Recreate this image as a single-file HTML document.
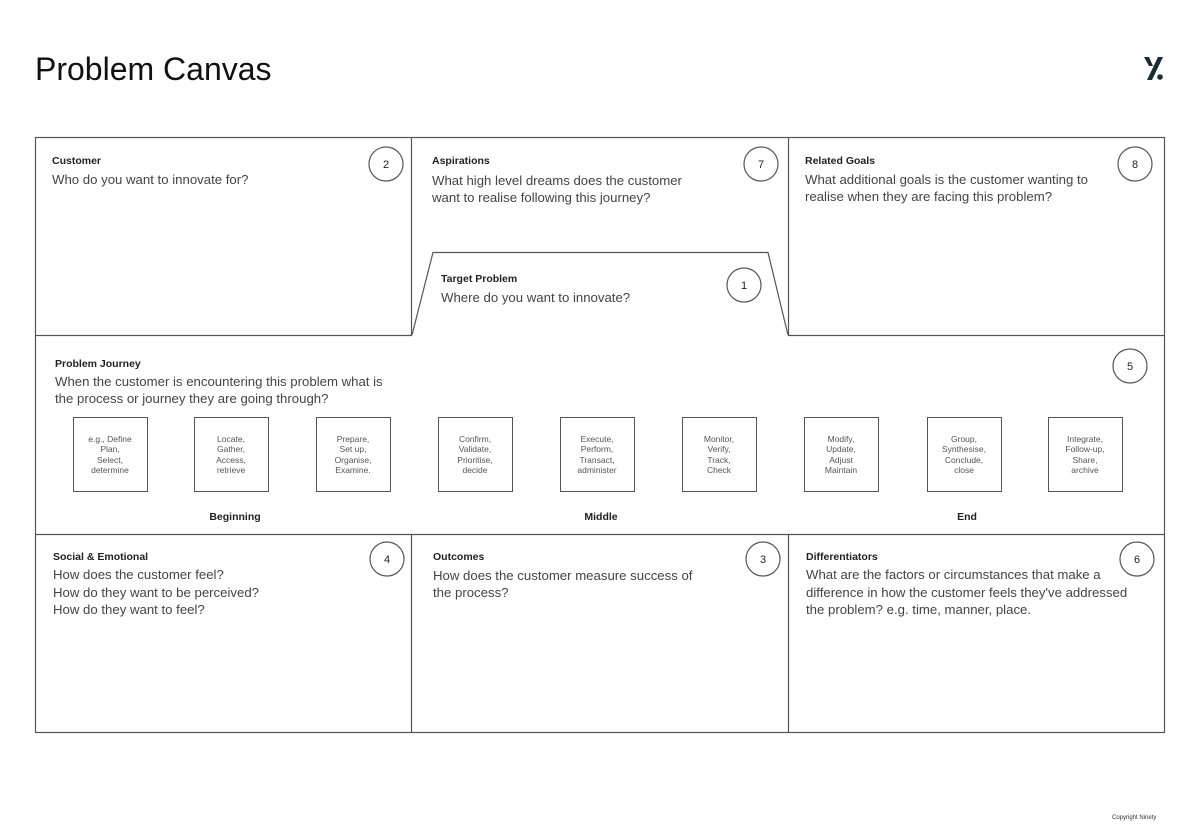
<!DOCTYPE html>
<html><head><meta charset="utf-8"><style>
html,body{margin:0;padding:0;background:#fff}
svg{display:block}
text{font-family:"Liberation Sans",sans-serif;fill:#333}
.h{font-size:10.5px;font-weight:bold;fill:#222}
.q{font-size:13.2px;fill:#444}
.b{font-size:8.5px;fill:#555;text-anchor:middle}
.n{font-size:11px;text-anchor:middle;fill:#222}
</style></head><body>
<svg width="1200" height="831" viewBox="0 0 1200 831" xmlns="http://www.w3.org/2000/svg">
<text x="35" y="80" style="font-size:32px;fill:#111">Problem Canvas</text>
<g fill="#1b2a33">
<polygon points="1144,57 1149,57 1153,66 1149,66"/>
<polygon points="1158,57 1163,57 1152,80 1147,80"/>
<circle cx="1160" cy="77" r="2.8"/>
</g>
<g stroke="#555" stroke-width="1.2" fill="none">
<rect x="35.5" y="137.5" width="1129" height="595"/>
<line x1="411.5" y1="137" x2="411.5" y2="335"/>
<line x1="788.5" y1="137" x2="788.5" y2="335"/>
<line x1="35" y1="335.5" x2="412" y2="335.5"/>
<line x1="788" y1="335.5" x2="1164" y2="335.5"/>
<polyline points="412,335 433,252.5 768,252.5 788,335"/>
<line x1="35" y1="534.5" x2="1164" y2="534.5"/>
<line x1="411.5" y1="534" x2="411.5" y2="733"/>
<line x1="788.5" y1="534" x2="788.5" y2="733"/>
<circle cx="386" cy="164" r="17"/><circle cx="761" cy="164" r="17"/><circle cx="1135" cy="164" r="17"/>
<circle cx="744" cy="285" r="17"/><circle cx="1130" cy="366" r="17"/>
<circle cx="387" cy="559" r="17"/><circle cx="763" cy="559" r="17"/><circle cx="1137" cy="559" r="17"/>
<g stroke-width="1">
<rect x="73.5" y="417.5" width="74" height="74"/><rect x="194.5" y="417.5" width="74" height="74"/>
<rect x="316.5" y="417.5" width="74" height="74"/><rect x="438.5" y="417.5" width="74" height="74"/>
<rect x="560.5" y="417.5" width="74" height="74"/><rect x="682.5" y="417.5" width="74" height="74"/>
<rect x="804.5" y="417.5" width="74" height="74"/><rect x="927.5" y="417.5" width="74" height="74"/>
<rect x="1048.5" y="417.5" width="74" height="74"/>
</g></g>
<text class="n" x="386" y="168">2</text><text class="n" x="761" y="168">7</text><text class="n" x="1135" y="168">8</text>
<text class="n" x="744" y="289">1</text><text class="n" x="1130" y="370">5</text>
<text class="n" x="387" y="563">4</text><text class="n" x="763" y="563">3</text><text class="n" x="1137" y="563">6</text>

<text class="h" x="52" y="164">Customer</text>
<text class="q" x="52" y="184">Who do you want to innovate for?</text>
<text class="h" x="432" y="164">Aspirations</text>
<text class="q" x="432" y="185">What high level dreams does the customer</text>
<text class="q" x="432" y="202">want to realise following this journey?</text>
<text class="h" x="805" y="164">Related Goals</text>
<text class="q" x="805" y="184">What additional goals is the customer wanting to</text>
<text class="q" x="805" y="201">realise when they are facing this problem?</text>
<text class="h" x="441" y="282">Target Problem</text>
<text class="q" x="441" y="302">Where do you want to innovate?</text>
<text class="h" x="55" y="367">Problem Journey</text>
<text class="q" x="55" y="386">When the customer is encountering this problem what is</text>
<text class="q" x="55" y="403">the process  or journey they are going through?</text>

<text class="b" x="110" y="442">e.g., Define</text><text class="b" x="110" y="452">Plan,</text><text class="b" x="110" y="463">Select,</text><text class="b" x="110" y="473">determine</text>
<text class="b" x="231" y="442">Locate,</text><text class="b" x="231" y="452">Gather,</text><text class="b" x="231" y="463">Access,</text><text class="b" x="231" y="473">retrieve</text>
<text class="b" x="353" y="442">Prepare,</text><text class="b" x="353" y="452">Set up,</text><text class="b" x="353" y="463">Organise,</text><text class="b" x="353" y="473">Examine.</text>
<text class="b" x="475" y="442">Confirm,</text><text class="b" x="475" y="452">Validate,</text><text class="b" x="475" y="463">Prioritise,</text><text class="b" x="475" y="473">decide</text>
<text class="b" x="597" y="442">Execute,</text><text class="b" x="597" y="452">Perform,</text><text class="b" x="597" y="463">Transact,</text><text class="b" x="597" y="473">administer</text>
<text class="b" x="719" y="442">Monitor,</text><text class="b" x="719" y="452">Verify,</text><text class="b" x="719" y="463">Track,</text><text class="b" x="719" y="473">Check</text>
<text class="b" x="841" y="442">Modify,</text><text class="b" x="841" y="452">Update,</text><text class="b" x="841" y="463">Adjust</text><text class="b" x="841" y="473">Maintain</text>
<text class="b" x="964" y="442">Group,</text><text class="b" x="964" y="452">Synthesise,</text><text class="b" x="964" y="463">Conclude,</text><text class="b" x="964" y="473">close</text>
<text class="b" x="1085" y="442">Integrate,</text><text class="b" x="1085" y="452">Follow-up,</text><text class="b" x="1085" y="463">Share,</text><text class="b" x="1085" y="473">archive</text>

<text class="h" x="235" y="520" text-anchor="middle">Beginning</text>
<text class="h" x="601" y="520" text-anchor="middle">Middle</text>
<text class="h" x="967" y="520" text-anchor="middle">End</text>

<text class="h" x="53" y="560">Social &amp; Emotional</text>
<text class="q" x="53" y="579">How does the customer feel?</text>
<text class="q" x="53" y="597">How do they want to be perceived?</text>
<text class="q" x="53" y="614">How do they want to feel?</text>
<text class="h" x="433" y="560">Outcomes</text>
<text class="q" x="433" y="580">How does the customer measure success of</text>
<text class="q" x="433" y="597">the process?</text>
<text class="h" x="806" y="560">Differentiators</text>
<text class="q" x="806" y="579">What are the factors or circumstances that make a</text>
<text class="q" x="806" y="597">difference in how the customer feels they've addressed</text>
<text class="q" x="806" y="614">the problem? e.g. time, manner, place.</text>
<text x="1112" y="819" style="font-size:6px;fill:#333">Copyright Ninety</text>
</svg>
</body></html>
